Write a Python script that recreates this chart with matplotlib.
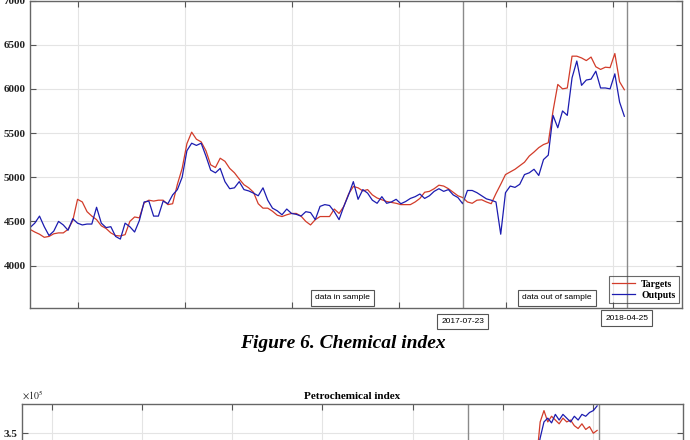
import numpy as np
import pandas as pd
import matplotlib
matplotlib.use("Agg")
import matplotlib.pyplot as plt
import matplotlib.dates as mdates
import matplotlib.transforms as mtransforms

plt.rcParams['mathtext.fontset'] = 'stix'

# chemical index, one sample every 8 days from 2015-07-26
start = pd.Timestamp("2015-07-26")
targets = [4410, 4380, 4355, 4320, 4330, 4360, 4370, 4370, 4410, 4510,
           4750, 4720, 4610, 4560, 4520, 4450, 4420, 4370, 4340, 4335,
           4350, 4500, 4550, 4540, 4710, 4740, 4730, 4740, 4740, 4690,
           4700, 4920, 5100,
           5380, 5510, 5430, 5400, 5300, 5140, 5110, 5215, 5180, 5100,
           5050, 4980, 4915, 4880, 4830, 4700, 4650, 4650, 4615, 4570,
           4555, 4575, 4590, 4590, 4560, 4500, 4460, 4520, 4555, 4555, 4555,
           4640, 4590, 4670, 4810, 4895, 4880, 4845, 4860, 4800, 4765,
           4745, 4725, 4715, 4705, 4690, 4690, 4690, 4720, 4760, 4830,
           4840, 4870, 4910, 4900, 4870, 4830, 4790, 4770, 4720, 4705,
           4740, 4745, 4720, 4700, 4815, 4920, 5030, 5060, 5090, 5130,
           5170, 5240, 5285, 5335, 5370, 5390, 5750, 6050, 6000, 6010,
           6370, 6370, 6350, 6320, 6360, 6250, 6220, 6245, 6240, 6400,
           6080, 5990]
outputs = [4430, 4480, 4560, 4440, 4340, 4390, 4500, 4460, 4400, 4530,
           4480, 4460, 4470, 4470, 4660, 4480, 4430, 4440, 4330, 4300,
           4480, 4440, 4380, 4510, 4720, 4730, 4560, 4560, 4730, 4700,
           4800, 4860, 5000,
           5300, 5385, 5360, 5385, 5240, 5080, 5050, 5100, 4950, 4870,
           4880, 4950, 4860, 4845, 4820, 4790, 4880, 4740, 4650, 4620,
           4575, 4640, 4590, 4580, 4560, 4610, 4600, 4520, 4670, 4690, 4680,
           4610, 4520, 4670, 4800, 4950, 4750, 4860, 4820, 4740, 4705,
           4780, 4705, 4720, 4750, 4700, 4725, 4760, 4780, 4810, 4760,
           4790, 4840, 4870, 4840, 4860, 4800, 4770, 4700, 4850, 4850,
           4825, 4790, 4755, 4740, 4720, 4355, 4825, 4900, 4885, 4920,
           5030, 5050, 5090, 5020, 5200, 5250, 5700, 5560, 5750, 5700,
           6125, 6315, 6040, 6100, 6110, 6200, 6010, 6010, 6000, 6170,
           5850, 5690]
dates = pd.date_range(start, periods=len(targets), freq="8D")

# petrochemical index (x 1e5), only the visible tail
petro_targets = [3.20, 3.62, 3.74, 3.62, 3.68, 3.64, 3.60, 3.66, 3.62,
                 3.64, 3.58, 3.55, 3.60, 3.54, 3.57, 3.50, 3.53]
petro_outputs = [3.25, 3.45, 3.62, 3.66, 3.61, 3.70, 3.64, 3.70, 3.66,
                 3.62, 3.68, 3.64, 3.70, 3.68, 3.72, 3.74, 3.79]
petro_dates = dates[len(dates) - len(petro_targets):]

split_dates = ["2017-07-23", "2018-04-25"]
y_ticks = [4000, 4500, 5000, 5500, 6000, 6500, 7000]
petro_ticks = [3.5]

red = '#d23c2a'
blue = '#1c1cb0'
serif = 'Liberation Serif'
sans = 'Liberation Sans'


def style_axes(a):
    a.grid(True, color='#e4e4e4', lw=0.8)
    a.set_axisbelow(True)
    a.tick_params(direction='in', length=4, top=True, right=True,
                  color='#555555', labelbottom=False, pad=3)
    for s in a.spines.values():
        s.set_color('#666666')
        s.set_linewidth(1.0)
    for lab in a.get_yticklabels():
        lab.set_fontfamily(serif)
        lab.set_fontweight('bold')
        lab.set_fontsize(8)
        lab.set_color('#222222')


fig = plt.figure(figsize=(6.9, 4.4), dpi=100)

# top chart
ax = fig.add_axes([30/690, 1-308/440, 652/690, 307.5/440])
ax.plot(dates, targets, color=red, lw=0.9, label='Targets')
ax.plot(dates, outputs, color=blue, lw=0.9, label='Outputs')
ax.set_xlim(start, start + pd.Timedelta(days=1097))
ax.set_ylim(3520, 7000)
ax.set_xticks([start + pd.Timedelta(days=81 + 180*k) for k in range(6)])
ax.set_yticks(y_ticks)
style_axes(ax)

trans = mtransforms.blended_transform_factory(ax.transData, ax.transAxes)
for d, yy in zip(split_dates, [-0.043, -0.033]):
    ax.axvline(pd.Timestamp(d), color='#8a8a8a', lw=1.0)
    ax.text(mdates.date2num(pd.Timestamp(d)), yy, d, transform=trans,
            ha='center', va='center', fontsize=6, family=sans, clip_on=False,
            bbox=dict(boxstyle='square,pad=0.5', fc='white', ec='#555555', lw=0.8))

for xx, txt in [(0.479, 'data in sample'), (0.808, 'data out of sample')]:
    ax.text(xx, 0.033, txt, transform=ax.transAxes, ha='center', va='center',
            fontsize=6, family=sans,
            bbox=dict(boxstyle='square,pad=0.5', fc='white', ec='#555555', lw=0.8))

leg = ax.legend(loc='lower right', bbox_to_anchor=(0.995, 0.016), borderaxespad=0,
                prop={'family': serif, 'weight': 'bold', 'size': 7},
                handlelength=2.4, handletextpad=0.6, labelspacing=0.2,
                borderpad=0.35, fancybox=False, edgecolor='#444444',
                facecolor='none')
leg.get_frame().set_linewidth(0.8)

fig.text(0.497, 1-343/440, 'Figure 6. Chemical index', ha='center', va='center',
         fontsize=14, style='italic', weight='bold', family=serif)

# bottom chart, mostly below the picture
ax2 = fig.add_axes([22/690, 1-(404+300)/440, 661/690, 300/440])
ax2.plot(petro_dates, petro_targets, color=red, lw=0.9)
ax2.plot(petro_dates, petro_outputs, color=blue, lw=0.9)
ax2.set_xlim(start - pd.Timedelta(days=212), start + pd.Timedelta(days=1181))
ax2.set_ylim(0.63, 3.81)
ax2.set_xticks([start + pd.Timedelta(days=-149 + 190*k) for k in range(7)])
ax2.set_yticks(petro_ticks)
ax2.set_yticklabels([f'{t:.1f}' for t in petro_ticks])
style_axes(ax2)
for d in split_dates:
    ax2.axvline(pd.Timestamp(d), color='#8a8a8a', lw=1.0)
ax2.text(0.5, 1 + 8/300, 'Petrochemical index', transform=ax2.transAxes,
         ha='center', va='center', fontsize=8, weight='bold', family=serif)
ax2.text(0.0, 1 + 9/300, r'$\times10^5$', transform=ax2.transAxes,
         ha='left', va='center', fontsize=7, color='#222222')

fig.savefig('out.png', dpi=100)
